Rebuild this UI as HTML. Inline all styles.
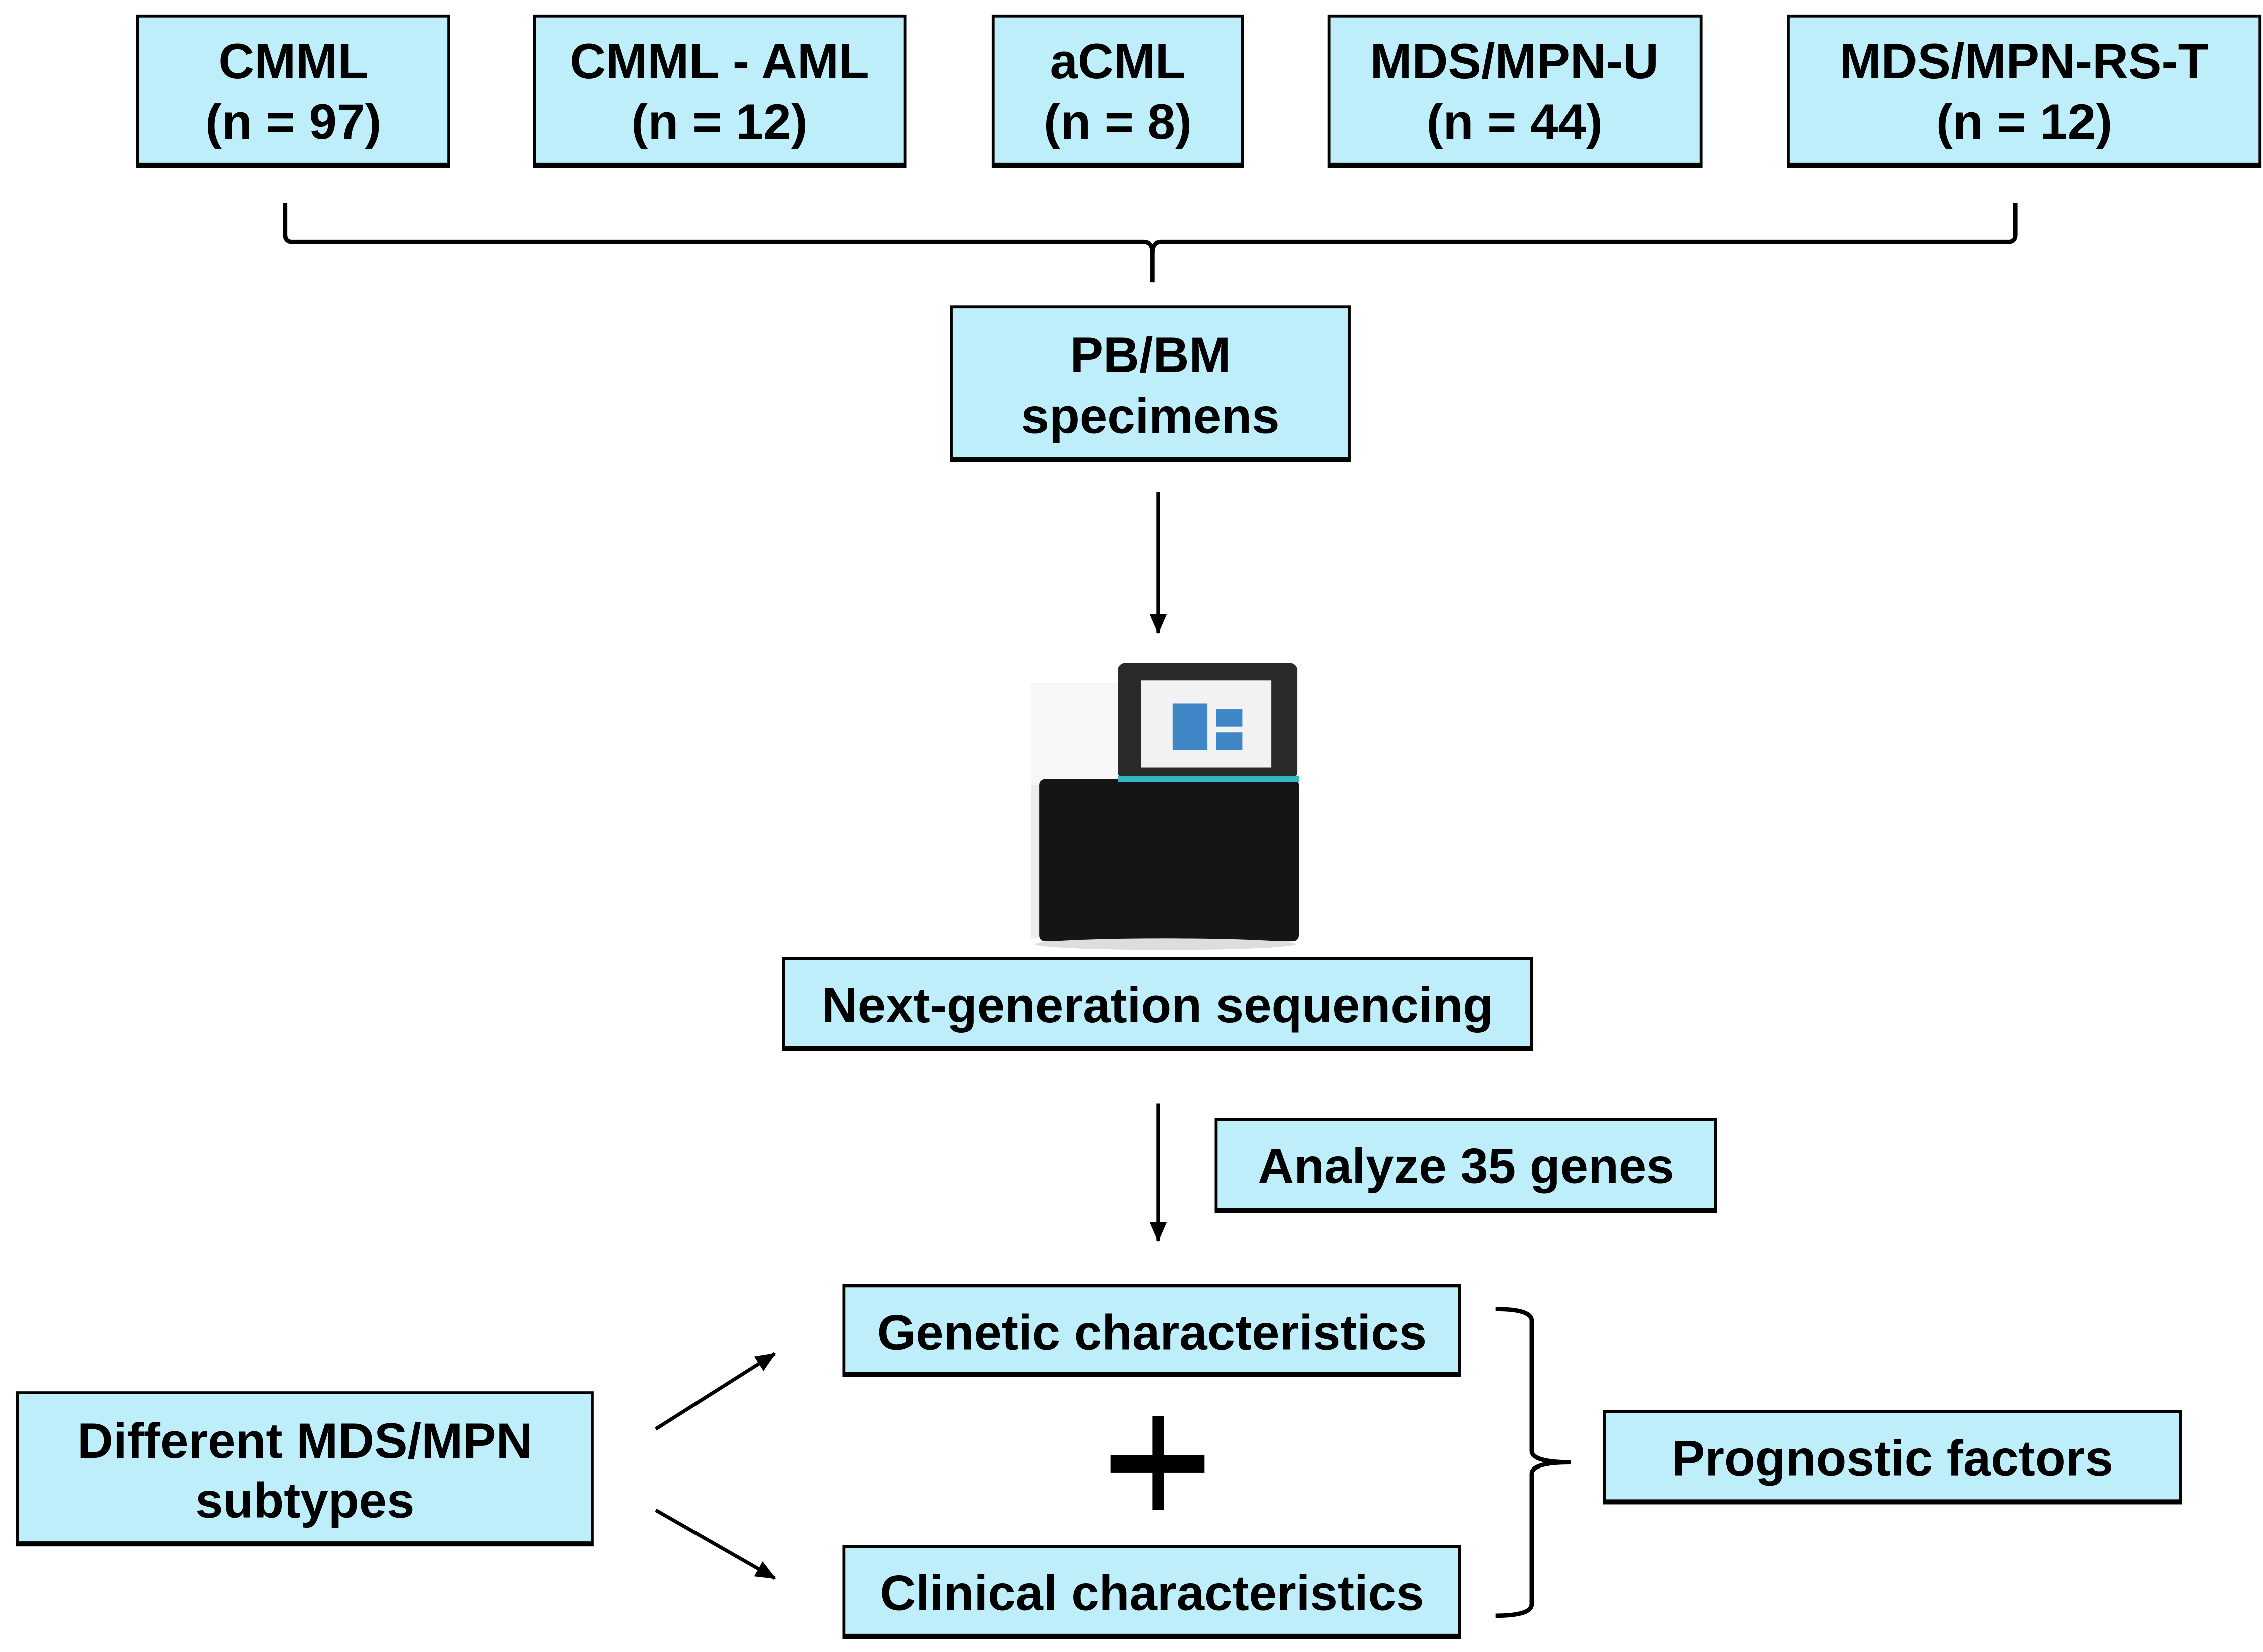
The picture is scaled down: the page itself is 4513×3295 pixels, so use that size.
<!DOCTYPE html>
<html><head><meta charset="utf-8"><style>
html,body{margin:0;padding:0;background:#fff;}
svg{display:block;}
text{font-family:"Liberation Sans",Arial,sans-serif;font-weight:bold;font-size:34.5px;fill:#000;}
.b{fill:#bdeefa;stroke:#000;stroke-width:2;}
</style></head><body>
<svg width="4513" height="3295" viewBox="0 0 1563 1141" preserveAspectRatio="none" xmlns="http://www.w3.org/2000/svg">
<defs><marker id="ah" markerWidth="14" markerHeight="14" refX="13" refY="7" orient="auto" markerUnits="userSpaceOnUse" viewBox="0 0 14 14"><path d="M0,1 L14,7 L0,13 z" fill="#000"/></marker></defs>
<g>
<rect class="b" x="95" y="11" width="215" height="104"/>
<line x1="95" y1="114" x2="310" y2="114" stroke="#000" stroke-width="3"/>
<text x="202.5" y="54" text-anchor="middle">CMML</text><text x="202.5" y="96" text-anchor="middle">(n = 97)</text>
<rect class="b" x="369" y="11" width="256" height="104"/>
<line x1="369" y1="114" x2="625" y2="114" stroke="#000" stroke-width="3"/>
<text x="497" y="54" text-anchor="middle">CMML - AML</text><text x="497" y="96" text-anchor="middle">(n = 12)</text>
<rect class="b" x="686" y="11" width="172" height="104"/>
<line x1="686" y1="114" x2="858" y2="114" stroke="#000" stroke-width="3"/>
<text x="772" y="54" text-anchor="middle">aCML</text><text x="772" y="96" text-anchor="middle">(n = 8)</text>
<rect class="b" x="918" y="11" width="257" height="104"/>
<line x1="918" y1="114" x2="1175" y2="114" stroke="#000" stroke-width="3"/>
<text x="1046" y="54" text-anchor="middle">MDS/MPN-U</text><text x="1046" y="96" text-anchor="middle">(n = 44)</text>
<rect class="b" x="1235" y="11" width="326" height="104"/>
<line x1="1235" y1="114" x2="1561" y2="114" stroke="#000" stroke-width="3"/>
<text x="1398" y="54" text-anchor="middle">MDS/MPN-RS-T</text><text x="1398" y="96" text-anchor="middle">(n = 12)</text>
</g>
<path d="M197,140 L197,162 Q197,167 202,167 L790,167 Q796,167 796,175 L796,195 M796,175 Q796,167 802,167 L1387,167 Q1392,167 1392,162 L1392,140" fill="none" stroke="#000" stroke-width="3"/>
<rect class="b" x="657" y="212" width="275" height="106"/>
<line x1="657" y1="317" x2="932" y2="317" stroke="#000" stroke-width="3"/>
<text x="794.5" y="257" text-anchor="middle">PB/BM</text><text x="794.5" y="299" text-anchor="middle">specimens</text>
<line x1="800" y1="340" x2="800" y2="437" stroke="#000" stroke-width="2.5" marker-end="url(#ah)"/>
<rect x="712" y="472" width="66" height="176" fill="#ececec"/>
<rect x="712" y="472" width="66" height="70" fill="#f7f7f7"/>
<rect x="772" y="458" width="124" height="80" rx="5" fill="#2a2a2a"/>
<rect x="788" y="470" width="90" height="60" fill="#f2f2f2"/>
<rect x="810" y="486" width="24" height="32" fill="#3f86c6"/>
<rect x="840" y="490" width="18" height="12" fill="#3f86c6"/>
<rect x="840" y="506" width="18" height="12" fill="#3f86c6"/>
<rect x="718" y="538" width="179" height="112" rx="4" fill="#151515"/>
<rect x="772" y="536" width="125" height="4" fill="#35b6c4"/>
<ellipse cx="805" cy="652" rx="90" ry="4" fill="#ddd"/>
<rect class="b" x="541" y="662" width="517" height="63"/>
<line x1="541" y1="724" x2="1058" y2="724" stroke="#000" stroke-width="3"/>
<text x="799.5" y="706" text-anchor="middle">Next-generation sequencing</text>
<line x1="800" y1="762" x2="800" y2="857" stroke="#000" stroke-width="2.5" marker-end="url(#ah)"/>
<rect class="b" x="840" y="773" width="345" height="64"/>
<line x1="840" y1="836" x2="1185" y2="836" stroke="#000" stroke-width="3"/>
<text x="1012.5" y="817" text-anchor="middle">Analyze 35 genes</text>
<rect class="b" x="583" y="888" width="425" height="62"/>
<line x1="583" y1="949" x2="1008" y2="949" stroke="#000" stroke-width="3"/>
<text x="795.5" y="932" text-anchor="middle">Genetic characteristics</text>
<rect class="b" x="583" y="1068" width="425" height="63"/>
<line x1="583" y1="1130" x2="1008" y2="1130" stroke="#000" stroke-width="3"/>
<text x="795.5" y="1112" text-anchor="middle">Clinical characteristics</text>
<rect x="796" y="978" width="8" height="65" fill="#000"/>
<rect x="767" y="1005" width="65" height="12" fill="#000"/>
<rect class="b" x="12" y="962" width="397" height="105"/>
<line x1="12" y1="1066" x2="409" y2="1066" stroke="#000" stroke-width="3"/>
<text x="210.5" y="1007" text-anchor="middle">Different MDS/MPN</text><text x="210.5" y="1048" text-anchor="middle">subtypes</text>
<line x1="453" y1="987" x2="535" y2="935" stroke="#000" stroke-width="2.5" marker-end="url(#ah)"/>
<line x1="453" y1="1043" x2="535" y2="1090" stroke="#000" stroke-width="2.5" marker-end="url(#ah)"/>
<path d="M1033,904 Q1058,904 1058,912 L1058,1002 Q1058,1010 1085,1010 Q1058,1010 1058,1018 L1058,1108 Q1058,1116 1033,1116" fill="none" stroke="#000" stroke-width="3"/>
<rect class="b" x="1108" y="975" width="398" height="63"/>
<line x1="1108" y1="1037" x2="1506" y2="1037" stroke="#000" stroke-width="3"/>
<text x="1307" y="1019" text-anchor="middle">Prognostic factors</text>
</svg>
</body></html>
